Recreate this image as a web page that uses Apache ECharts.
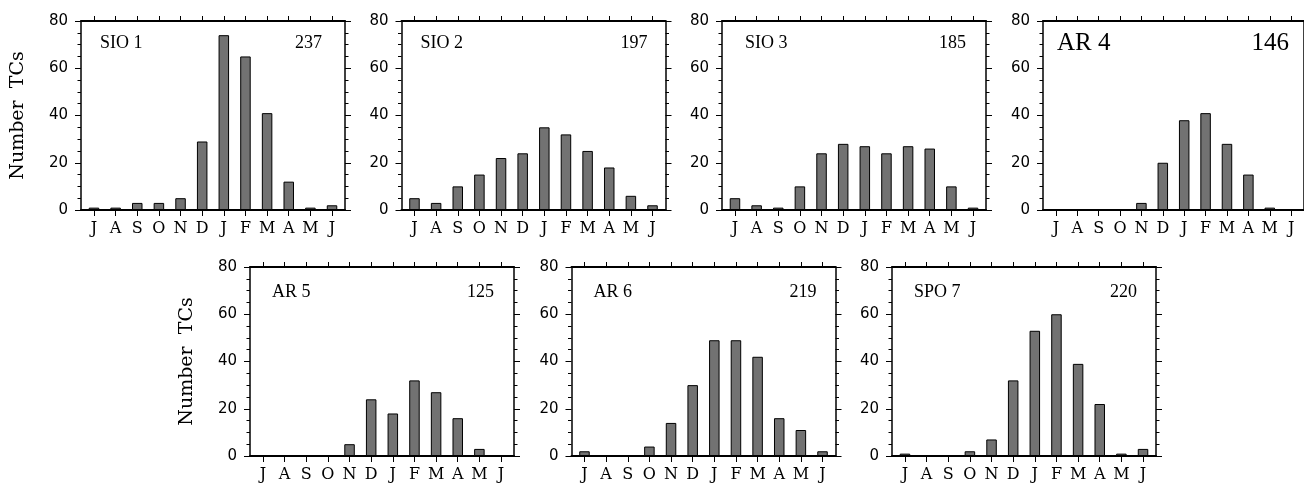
<!DOCTYPE html>
<html><head><meta charset="utf-8">
<script src="https://cdn.jsdelivr.net/npm/echarts@6/dist/echarts.min.js"></script>
<style>html,body{margin:0;padding:0;background:#fff}#c{width:1304px;height:484px}</style>
</head><body><div id="c"></div>
<script>
// ---- data ----
const months = ['J','A','S','O','N','D','J','F','M','A','M','J'];
const regionNames = ['SIO 1','SIO 2','SIO 3','AR 4','AR 5','AR 6','SPO 7'];
const regionTotals = ['237','197','185','146','125','219','220'];
const sio1 = [1, 1, 3, 3, 5, 29, 74, 65, 41, 12, 1, 2];
const sio2 = [5, 3, 10, 15, 22, 24, 35, 32, 25, 18, 6, 2];
const sio3 = [5, 2, 1, 10, 24, 28, 27, 24, 27, 26, 10, 1];
const ar4  = [0, 0, 0, 0, 3, 20, 38, 41, 28, 15, 1, 0];
const ar5  = [0, 0, 0, 0, 5, 24, 18, 32, 27, 16, 3, 0];
const ar6  = [2, 0, 0, 4, 14, 30, 49, 49, 42, 16, 11, 2];
const spo7 = [1, 0, 0, 2, 7, 32, 53, 60, 39, 22, 1, 3];
const yMin = 0, yMax = 80, yStep = 20;
const yAxisTitle = 'Number  TCs';

// ---- layout (positions / styles only) ----
const panels = [
  {values: sio1, left: 81,    top: 21,  tl: 19, tr: 23, fs: 18, ty: 22.5, showName: true},
  {values: sio2, left: 401.5, top: 21,  tl: 19, tr: 18, fs: 18, ty: 22.5},
  {values: sio3, left: 722,   top: 21,  tl: 23, tr: 20, fs: 18, ty: 22.5},
  {values: ar4,  left: 1043,  top: 21,  tl: 14, tr: 18, fs: 25, ty: 22.5},
  {values: ar5,  left: 250,   top: 267, tl: 22, tr: 20, fs: 18, ty: 25.5, showName: true},
  {values: ar6,  left: 571.5, top: 267, tl: 22, tr: 19, fs: 18, ty: 25.5},
  {values: spo7, left: 892,   top: 267, tl: 22, tr: 19, fs: 18, ty: 25.5}
];
const W = 264, H = 189;
const monthPos = months.map((m, k) => k + 1);

const grid = [], xAxis = [], yAxis = [], series = [], graphic = [];
panels.forEach((p, i) => {
  grid.push({left: p.left, top: p.top, width: W, height: H});
  const xBase = {
    type: 'value', gridIndex: i, min: 0.4, max: 12.6,
    splitLine: {show: false},
    axisLine: {show: true, onZero: false, lineStyle: {color: '#000', width: 2}}
  };
  xAxis.push(Object.assign({}, xBase, {
    position: 'bottom',
    axisTick: {show: true, customValues: monthPos, length: 6, lineStyle: {color: '#000', width: 1}},
    axisLabel: {show: true, customValues: monthPos, formatter: v => months[Math.round(v) - 1],
      fontFamily: 'DejaVu Serif', fontSize: 16, color: '#000', margin: 11}
  }));
  xAxis.push(Object.assign({}, xBase, {
    position: 'top',
    axisTick: {show: true, customValues: monthPos, length: 5, lineStyle: {color: '#000', width: 1}},
    axisLabel: {show: false}
  }));
  const yBase = {
    type: 'value', gridIndex: i, min: yMin, max: yMax, interval: yStep,
    splitLine: {show: false}, minorSplitLine: {show: false},
    axisLine: {show: true, onZero: false, lineStyle: {color: '#000', width: 1.5}},
    axisTick: {show: true, length: 6, lineStyle: {color: '#000', width: 1}},
    minorTick: {show: true, splitNumber: 4, length: 3.5, lineStyle: {color: '#000', width: 1}}
  };
  yAxis.push(Object.assign({}, yBase, {
    position: 'left',
    axisLabel: {show: true, fontFamily: 'DejaVu Sans', fontSize: 15, color: '#000', margin: 13},
    name: p.showName ? yAxisTitle : '',
    nameLocation: 'middle', nameRotate: 90, nameGap: 53,
    nameTextStyle: {fontFamily: 'DejaVu Serif', fontSize: 19, color: '#000'}
  }));
  yAxis.push(Object.assign({}, yBase, {
    position: 'right',
    axisLabel: {show: false}
  }));
  series.push({
    type: 'bar', xAxisIndex: 2 * i, yAxisIndex: 2 * i,
    data: p.values.map((v, k) => [monthPos[k], v]),
    barWidth: 10.5, silent: true,
    itemStyle: {color: '#727272', borderColor: '#000', borderWidth: 1}
  });
  graphic.push({
    type: 'text', x: p.left + p.tl, y: p.top + p.ty, silent: true,
    style: {text: regionNames[i], fontFamily: 'Liberation Serif', fontSize: p.fs, fill: '#000',
      textAlign: 'left', textVerticalAlign: 'middle'}
  });
  graphic.push({
    type: 'text', x: p.left + W - p.tr, y: p.top + p.ty, silent: true,
    style: {text: regionTotals[i], fontFamily: 'Liberation Serif', fontSize: p.fs, fill: '#000',
      textAlign: 'right', textVerticalAlign: 'middle'}
  });
});

const chart = echarts.init(document.getElementById('c'), null, {renderer: 'canvas'});
chart.setOption({animation: false, backgroundColor: '#fff', grid, xAxis, yAxis, series, graphic});
</script>
</body></html>
